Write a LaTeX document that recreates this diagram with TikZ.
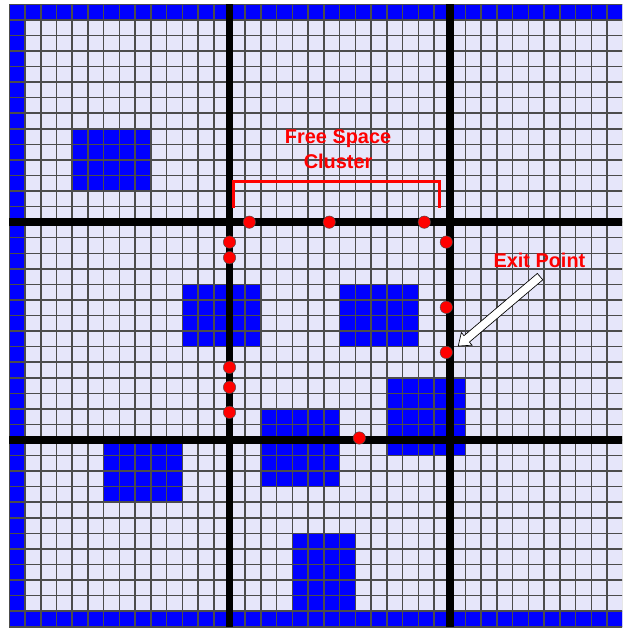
\documentclass[tikz,border=0pt]{standalone}
\usepackage{fontspec}
\newfontfamily\labelfont{Liberation Sans}
\usetikzlibrary{calc}
\usepackage{tkz-euclide}
\definecolor{FreeClr}{RGB}{230,230,250}
\definecolor{ObstClr}{RGB}{0,0,255}
\definecolor{MarkClr}{RGB}{255,0,0}

\begin{document}
\begin{tikzpicture}[x=0.5cm,y=-0.4946cm,
  GridLine/.style={line width=1.4pt,color=black!70},
  ClusterLine/.style={line width=6.8pt,color=black},
  BracketLine/.style={line width=2.7pt,color=MarkClr},
  LabelTxt/.style={font=\labelfont\bfseries\fontsize{18}{23}\selectfont,text=MarkClr,align=center,inner sep=0pt}]
\useasboundingbox (-0.59,-0.276) rectangle (38.95,40.08);
\clip (-0.59,-0.276) rectangle (38.95,40.08);

% free cells and obstacles
\fill[FreeClr] (0,0) rectangle (40,40);
\foreach \xa/\ya/\xb/\yb in {0/0/40/1,0/39/40/40,0/0/1/40,39/0/40/40,
  4/8/9/12,11/18/16/22,21/18/26/22,24/24/29/29,16/26/21/31,6/28/11/32,18/34/22/39}
  \fill[ObstClr] (\xa,\ya) rectangle (\xb,\yb);
\foreach \k in {0,...,40} {
  \draw[GridLine] (\k,0) -- (\k,40);
  \draw[GridLine] (0,\k) -- (40,\k);
}

% cluster borders
\foreach \k in {14,28} {
  \draw[ClusterLine] (\k,0) -- (\k,40);
  \draw[ClusterLine] (0,\k) -- (40,\k);
}

% bracket over the cluster
\coordinate (brL) at (14.28,13.1);
\coordinate (brR) at (27.34,13.1);
\draw[BracketLine] (brL) -- ++(0,-1.7) -| (brR);
\node[LabelTxt] (fsc) at (20.9,9.3) {Free Space\\Cluster};

% entrance / exit points
\tkzDefPoint(15.26,14){P1}
\tkzDefPoint(20.34,14){P2}
\tkzDefPoint(26.38,14){P3}
\tkzDefPoint(14,15.28){P4}
\tkzDefPoint(14,16.28){P5}
\tkzDefPoint(27.78,15.28){P6}
\tkzDefPoint(27.78,19.47){P7}
\tkzDefPoint(27.78,22.37){P8}
\tkzDefPoint(14,23.33){P9}
\tkzDefPoint(14,24.61){P10}
\tkzDefPoint(14,26.22){P11}
\tkzDefPoint(22.25,27.87){P12}
\foreach \p in {P1,P2,P3,P4,P5,P6,P7,P8,P9,P10,P11,P12}
  \draw[fill=MarkClr,draw=black!70,line width=0.4pt] (\p) circle (5.6pt);

% exit point label and arrow
\node[LabelTxt] (exit) at (33.7,16.43) {Exit Point};
\coordinate (arrTail) at (33.74,17.5);
\coordinate (arrTip) at (28.54,21.96);
\coordinate (arrNeck) at ($(arrTip)!10pt!(arrTail)$);
\draw[fill=white,line width=0.6pt,line join=miter]
  ($(arrTail)!3.8pt!90:(arrTip)$) -- ($(arrNeck)!3.8pt!90:(arrTip)$)
  -- ($(arrNeck)!7.5pt!90:(arrTip)$) -- (arrTip)
  -- ($(arrNeck)!7.5pt!-90:(arrTip)$) -- ($(arrNeck)!3.8pt!-90:(arrTip)$)
  -- ($(arrTail)!3.8pt!-90:(arrTip)$) -- cycle;

\end{tikzpicture}
\end{document}
